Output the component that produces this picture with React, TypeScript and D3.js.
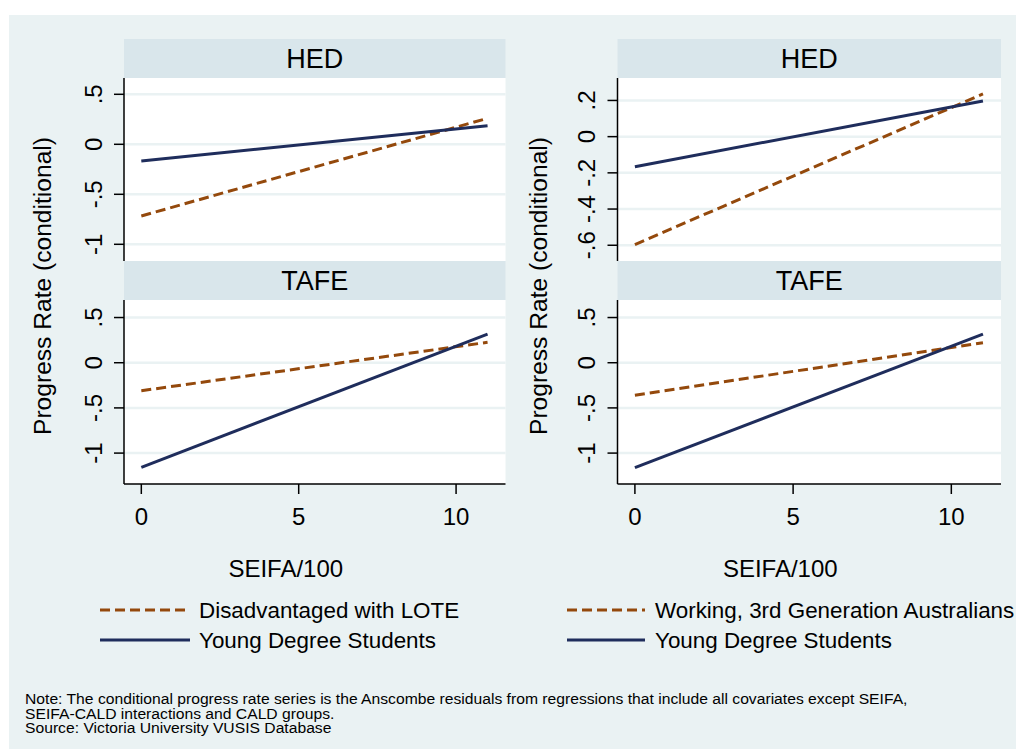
import React from 'react';
import * as d3 from 'd3';

// fitted line endpoints, x = SEIFA/100
const seifa = [0, 11];

const panelTitles = ['HED', 'TAFE'];

// left column: Disadvantaged with LOTE vs Young Degree Students
const loteHED = [-0.717, 0.26];
const youngHEDLeft = [-0.167, 0.186];
const loteTAFE = [-0.31, 0.226];
const youngTAFELeft = [-1.157, 0.317];

// right column: Working, 3rd Generation Australians vs Young Degree Students
const workHED = [-0.596, 0.236];
const youngHEDRight = [-0.166, 0.197];
const workTAFE = [-0.36, 0.221];
const youngTAFERight = [-1.16, 0.317];

const xTicks = [0, 5, 10];
const yTicksA = [-1, -0.5, 0, 0.5];
const yTicksHEDRight = [-0.6, -0.4, -0.2, 0, 0.2];

const legendLeft = ['Disadvantaged with LOTE', 'Young Degree Students'];
const legendRight = ['Working, 3rd Generation Australians', 'Young Degree Students'];

const noteLines = [
  'Note: The conditional progress rate series is the Anscombe residuals from regressions that include all covariates except SEIFA,',
  'SEIFA-CALD interactions and CALD groups.',
  'Source: Victoria University VUSIS Database',
];

const BG = '#EAF2F3';
const STRIP = '#D9E6EB';
const NAVY = '#1F2D5C';
const BROWN = '#94490C';
const FONT = '"Liberation Sans", Arial, sans-serif';

const fmt = (v: number) => {
  if (v === 0) return '0';
  const s = String(v);
  return s.replace('0.', '.');
};

type Panel = {
  title: string;
  x0: number; x1: number; y0: number; y1: number;
  yDomain: [number, number];
  yTicks: number[];
  dashed: number[];
  solid: number[];
  showX: boolean;
};

function PanelView({ p }: { p: Panel }) {
  const x = d3.scaleLinear().domain([-0.55, 11.57]).range([p.x0, p.x1]);
  const y = d3.scaleLinear().domain(p.yDomain).range([p.y1, p.y0]);
  const line = d3.line<number>().x((_, i) => x(seifa[i])).y(d => y(d));
  return (
    <g>
      <rect x={p.x0} y={p.y0 - 39} width={p.x1 - p.x0} height={39} fill={STRIP} />
      <text x={(p.x0 + p.x1) / 2} y={p.y0 - 19.5} textAnchor="middle" dominantBaseline="central"
        fontSize={27} fill="#000">{p.title}</text>
      <rect x={p.x0} y={p.y0} width={p.x1 - p.x0} height={p.y1 - p.y0} fill="#fff" />
      {p.yTicks.map(t => (
        <line key={'g' + t} x1={p.x0} x2={p.x1} y1={y(t)} y2={y(t)} stroke={BG} strokeWidth={2.5} />
      ))}
      <path d={line(p.dashed) || ''} fill="none" stroke={BROWN} strokeWidth={3} strokeDasharray="10,5" />
      <path d={line(p.solid) || ''} fill="none" stroke={NAVY} strokeWidth={3} />
      <line x1={p.x0} x2={p.x0} y1={p.y0} y2={p.y1} stroke="#000" strokeWidth={1.5} />
      {p.yTicks.map(t => (
        <g key={'t' + t}>
          <line x1={p.x0 - 10} x2={p.x0} y1={y(t)} y2={y(t)} stroke="#000" strokeWidth={1.5} />
          <text transform={`translate(${p.x0 - 31},${y(t)}) rotate(-90)`} textAnchor="middle"
            dominantBaseline="central" fontSize={24}>{fmt(t)}</text>
        </g>
      ))}
      {p.showX && (
        <g>
          <line x1={p.x0} x2={p.x1} y1={p.y1} y2={p.y1} stroke="#000" strokeWidth={1.5} />
          {xTicks.map(t => (
            <g key={'x' + t}>
              <line x1={x(t)} x2={x(t)} y1={p.y1} y2={p.y1 + 10} stroke="#000" strokeWidth={1.5} />
              <text x={x(t)} y={p.y1 + 32} textAnchor="middle" dominantBaseline="central" fontSize={24}>{t}</text>
            </g>
          ))}
          <text x={(p.x0 + p.x1) / 2 - 29} y={p.y1 + 84} textAnchor="middle" dominantBaseline="central"
            fontSize={24}>SEIFA/100</text>
        </g>
      )}
    </g>
  );
}

export default function App() {
  const cols = [
    { x0: 124, x1: 505.5, hedDomain: [-1.167, 0.663] as [number, number], hedTicks: yTicksA,
      hed: [loteHED, youngHEDLeft], tafe: [loteTAFE, youngTAFELeft], legend: legendLeft,
      lx0: 100, lx1: 190, tx: 199, titleX: 42 },
    { x0: 617.5, x1: 1001, hedDomain: [-0.687, 0.324] as [number, number], hedTicks: yTicksHEDRight,
      hed: [workHED, youngHEDRight], tafe: [workTAFE, youngTAFERight], legend: legendRight,
      lx0: 567, lx1: 645, tx: 655, titleX: 538 },
  ];
  const tafeDomain: [number, number] = [-1.342, 0.694];

  return (
    <svg width={1016} height={749} style={{ position: 'absolute', left: 0, top: 0 }} fontFamily={FONT}>
      <rect x={0} y={0} width={1016} height={749} fill="#fff" />
      <rect x={9} y={15} width={1007} height={734} fill={BG} />
      {cols.map((c, ci) => (
        <g key={ci}>
          <PanelView p={{ title: panelTitles[0], x0: c.x0, x1: c.x1, y0: 78, y1: 261, yDomain: c.hedDomain,
            yTicks: c.hedTicks, dashed: c.hed[0], solid: c.hed[1], showX: false }} />
          <PanelView p={{ title: panelTitles[1], x0: c.x0, x1: c.x1, y0: 300, y1: 484, yDomain: tafeDomain,
            yTicks: yTicksA, dashed: c.tafe[0], solid: c.tafe[1], showX: true }} />
          <text transform={`translate(${c.titleX},286) rotate(-90)`} textAnchor="middle" dominantBaseline="central"
            fontSize={24.6}>Progress Rate (conditional)</text>
          {c.legend.map((l, i) => (
            <g key={l + i}>
              <line x1={c.lx0} x2={c.lx1} y1={610 + i * 30} y2={610 + i * 30}
                stroke={i === 0 ? BROWN : NAVY} strokeWidth={3} strokeDasharray={i === 0 ? '10,5' : undefined} />
              <text x={c.tx} y={610 + i * 30} dominantBaseline="central" fontSize={22.4}>{l}</text>
            </g>
          ))}
        </g>
      ))}
      <g transform="translate(25,0) scale(1.075,1)">
        {noteLines.map((n, i) => (
          <text key={i} x={0} y={699 + i * 14.6} dominantBaseline="central" fontSize={14.6}>{n}</text>
        ))}
      </g>
    </svg>
  );
}
